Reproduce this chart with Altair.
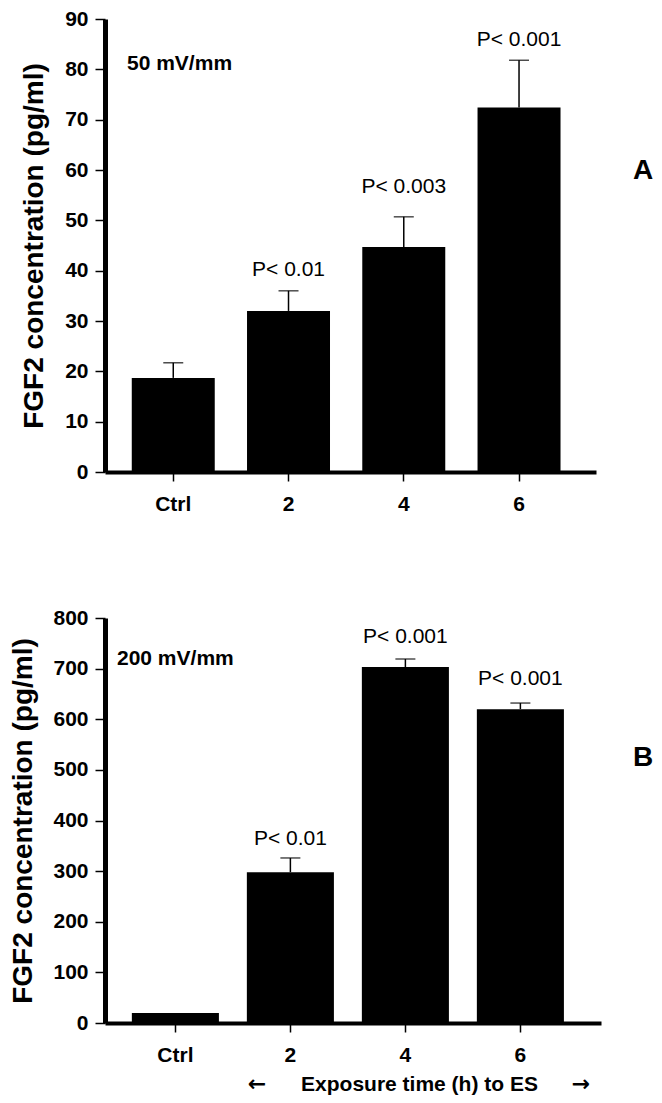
import altair as alt
import pandas as pd

FONT = "Liberation Sans"

categories = ["Ctrl", "2", "4", "6"]

# Panel A (50 mV/mm)
a_mean = [18.7, 32.0, 44.7, 72.4]
a_upper = [21.7, 36.0, 50.7, 81.8]
a_pval = ["", "P< 0.01", "P< 0.003", "P< 0.001"]
a_pval_y = [None, 40.1, 56.6, 85.8]

# Panel B (200 mV/mm)
b_mean = [20, 298, 703, 620]
b_upper = [None, 326, 719, 632]
b_pval = ["", "P< 0.01", "P< 0.001", "P< 0.001"]
b_pval_y = [None, 363, 763, 679]

y_title = "FGF2 concentration (pg/ml)"
x_title_b = "Exposure time (h) to ES"
arrow_text = ["\u2190", "\u2192"]


def panel(mean, upper, pval, pval_y, ymax, ystep, width, height,
          p_inner, p_outer, p_align, field_text, field_y, field_x,
          letter, letter_y, title_x, x_title=None):
    df = pd.DataFrame({"cat": categories, "mean": mean, "upper": upper,
                       "p": pval, "py": pval_y})
    xscale = alt.Scale(domain=categories, paddingInner=p_inner,
                       paddingOuter=p_outer, align=p_align)
    yscale = alt.Scale(domain=[0, ymax], nice=False, zero=True)

    x_axis_kw = dict(
        labelAngle=0, labelFont=FONT, labelFontSize=21, labelFontWeight="bold",
        labelColor="black", labelPadding=12, tickSize=9, tickWidth=1.5,
        tickColor="black", domainColor="black", domainWidth=4,
    )
    if x_title:
        x_axis_kw.update(title=x_title, titleFont=FONT, titleFontSize=21,
                         titleFontWeight="bold", titleColor="black",
                         titleX=314, titleY=61, titleBaseline="middle",
                         titleAlign="center")
    else:
        x_axis_kw.update(title=None)
    x_axis = alt.Axis(**x_axis_kw)
    y_axis = alt.Axis(
        values=list(range(0, ymax + 1, ystep)), title=y_title,
        titleFont=FONT, titleFontSize=28, titleFontWeight="bold",
        titleColor="black", titleX=title_x, titleY=height / 2,
        titleBaseline="middle", titleAngle=270,
        labelFont=FONT, labelFontSize=21, labelFontWeight="bold",
        labelColor="black", labelPadding=7, tickSize=10, tickWidth=1.5,
        tickColor="black", domainColor="black", domainWidth=5, grid=False,
    )

    def X():
        return alt.X("cat:N", sort=categories, scale=xscale, axis=x_axis)

    def Y(field):
        return alt.Y(field, scale=yscale, axis=y_axis)

    bars = alt.Chart(df).mark_bar(color="black").encode(x=X(), y=Y("mean:Q"))

    err_df = df.dropna(subset=["upper"])
    stems = alt.Chart(err_df).mark_rule(color="black", strokeWidth=1.5).encode(
        x=X(), y=Y("mean:Q"), y2="upper:Q",
    )
    caps = alt.Chart(err_df).mark_tick(
        color="black", orient="horizontal", size=20, thickness=1.5
    ).encode(x=X(), y=Y("upper:Q"))
    pdf = df.dropna(subset=["py"])
    ptext = alt.Chart(pdf).mark_text(
        font=FONT, fontSize=21, color="black", align="center", baseline="middle"
    ).encode(x=X(), y=Y("py:Q"), text="p:N")

    ann = pd.DataFrame({"t": [field_text], "v": [field_y]})
    field = alt.Chart(ann).mark_text(
        font=FONT, fontSize=21, fontWeight="bold", color="black",
        align="left", baseline="middle",
    ).encode(x=alt.value(field_x), y=Y("v:Q"), text="t:N")
    let = pd.DataFrame({"t": [letter], "v": [letter_y]})
    letter_mark = alt.Chart(let).mark_text(
        font=FONT, fontSize=28, fontWeight="bold", color="black",
        align="center", baseline="middle",
    ).encode(x=alt.value(538), y=Y("v:Q"), text="t:N")

    layers = [bars, stems, caps, ptext, field, letter_mark]
    if x_title:
        arr_df = pd.DataFrame({"t": arrow_text})
        left_arrow = alt.Chart(arr_df.iloc[[0]]).mark_text(
            font="DejaVu Sans", fontSize=22, fontWeight="bold", color="black",
            align="center", baseline="middle",
        ).encode(x=alt.value(152), y=alt.value(height + 61), text="t:N")
        right_arrow = alt.Chart(arr_df.iloc[[1]]).mark_text(
            font="DejaVu Sans", fontSize=22, fontWeight="bold", color="black",
            align="center", baseline="middle",
        ).encode(x=alt.value(476), y=alt.value(height + 61), text="t:N")
        layers += [left_arrow, right_arrow]

    return alt.layer(*layers).properties(width=width, height=height)


panel_a = panel(a_mean, a_upper, a_pval, a_pval_y, 90, 10, 491, 453,
                0.28, 0.27, 0.43, "50 mV/mm", 81, 22, "A", 59.8, -70.5)
panel_b = panel(b_mean, b_upper, b_pval, b_pval_y, 800, 100, 496, 405,
                0.243, 0.278, 0.42, "200 mV/mm", 720, 12, "B", 523, -82,
                x_title=x_title_b)

chart = alt.vconcat(panel_a, panel_b, spacing=93).properties(
    padding={"left": 0, "top": 0, "right": 0, "bottom": 0},
    background="white",
).configure_view(stroke=None)

chart.save("out.html", embed_options={"renderer": "svg", "actions": False})
